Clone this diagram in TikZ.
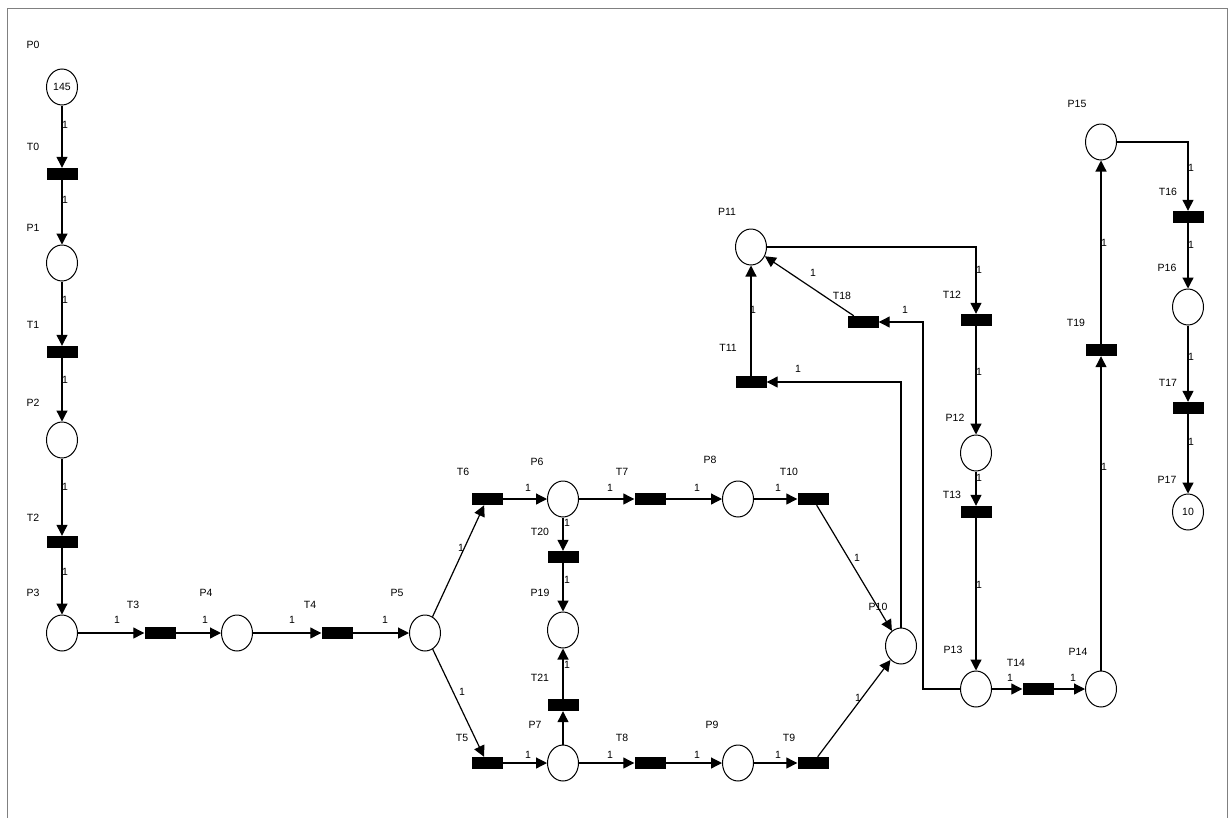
\documentclass[tikz,border=0pt]{standalone}
\usepackage{fontspec}
\setmainfont{Liberation Sans}
\usetikzlibrary{arrows.meta, positioning, shapes.geometric}

\begin{document}
\begin{tikzpicture}[
    x=1pt, y=-1pt,
    place/.style={ellipse, draw, line width=1pt, minimum width=31, minimum height=36, inner sep=0, font=\fontsize{10.5}{12}\selectfont},
    trans/.style={rectangle, fill=black, minimum width=31, minimum height=12, inner sep=0},
    pname/.style={inner sep=0, font=\fontsize{10.5}{12}\selectfont},
    wlabel/.style={inner sep=0, font=\fontsize{10.5}{12}\selectfont},
    arc/.style={-{Triangle[length=11pt, width=11pt]}, line width=1.2pt}
]
    \useasboundingbox (0,0) rectangle (1231,817);
    \draw[gray, line width=0.6pt] (7,830) -- (7,8) -- (1227,8) -- (1227,830);

    % places
    \node[place] (P0) at (62, 87) {145};
    \node[place] (P1) at (62, 263) {};
    \node[place] (P2) at (62, 440) {};
    \node[place] (P3) at (62, 633) {};
    \node[place] (P4) at (237, 633) {};
    \node[place] (P5) at (425, 633) {};
    \node[place] (P6) at (563, 499) {};
    \node[place] (P7) at (563, 763) {};
    \node[place] (P8) at (738, 499) {};
    \node[place] (P9) at (738, 763) {};
    \node[place] (P10) at (901, 646) {};
    \node[place] (P11) at (751, 247) {};
    \node[place] (P12) at (976, 453) {};
    \node[place] (P13) at (976, 689) {};
    \node[place] (P14) at (1101, 689) {};
    \node[place] (P15) at (1101, 142) {};
    \node[place] (P16) at (1188, 307) {};
    \node[place] (P17) at (1188, 512) {10};
    \node[place] (P19) at (563, 630) {};

    % transitions
    \node[trans] (T0) at (62, 174) {};
    \node[trans] (T1) at (62, 352) {};
    \node[trans] (T2) at (62, 542) {};
    \node[trans] (T3) at (160, 633) {};
    \node[trans] (T4) at (337, 633) {};
    \node[trans] (T5) at (487, 763) {};
    \node[trans] (T6) at (487, 499) {};
    \node[trans] (T7) at (650, 499) {};
    \node[trans] (T8) at (650, 763) {};
    \node[trans] (T9) at (813, 763) {};
    \node[trans] (T10) at (813, 499) {};
    \node[trans] (T11) at (751, 382) {};
    \node[trans] (T12) at (976, 320) {};
    \node[trans] (T13) at (976, 512) {};
    \node[trans] (T14) at (1038, 689) {};
    \node[trans] (T16) at (1188, 217) {};
    \node[trans] (T17) at (1188, 408) {};
    \node[trans] (T18) at (863, 322) {};
    \node[trans] (T19) at (1101, 350) {};
    \node[trans] (T20) at (563, 557) {};
    \node[trans] (T21) at (563, 705) {};

    % names
    \foreach \n/\x/\y in {P0/33/45, T0/33/147, P1/33/228, T1/33/325, P2/33/403, T2/33/518,
        P3/33/593, T3/133/605, P4/206/593, T4/310/605, P5/397/593,
        T6/463/472, P6/537/462, T7/622/472, P8/710/460, T10/789/472,
        T20/540/532, P19/540/593, T21/540/678, P7/535/725,
        T5/462/738, T8/622/738, P9/712/725, T9/789/738,
        P10/878/607, P11/727/212, T11/728/348, T18/842/296, T12/952/295,
        P12/955/418, T13/952/495, P13/953/650, T14/1016/663, P14/1078/652,
        T19/1076/323, P15/1077/104, T16/1168/192, P16/1167/268, T17/1168/383, P17/1167/480}
        \node[pname] (n\n) at (\x, \y) {\n};

    % arcs
    \draw[arc] (P0) -- (T0);
    \draw[arc] (T0) -- (P1);
    \draw[arc] (P1) -- (T1);
    \draw[arc] (T1) -- (P2);
    \draw[arc] (P2) -- (T2);
    \draw[arc] (T2) -- (P3);
    \draw[arc] (P3) -- (T3);
    \draw[arc] (T3) -- (P4);
    \draw[arc] (P4) -- (T4);
    \draw[arc] (T4) -- (P5);
    \draw[arc] (P5) -- (T6);
    \draw[arc] (P5) -- (T5);
    \draw[arc] (T6) -- (P6);
    \draw[arc] (P6) -- (T7);
    \draw[arc] (T7) -- (P8);
    \draw[arc] (P8) -- (T10);
    \draw[arc] (T5) -- (P7);
    \draw[arc] (P7) -- (T8);
    \draw[arc] (T8) -- (P9);
    \draw[arc] (P9) -- (T9);
    \draw[arc] (P6) -- (T20);
    \draw[arc] (T20) -- (P19);
    \draw[arc] (P7) -- (T21);
    \draw[arc] (T21) -- (P19);
    \draw[arc] (T10) -- (P10);
    \draw[arc] (T9) -- (P10);
    \draw[arc] (P10) |- (T11);
    \draw[arc] (T11) -- (P11);
    \draw[arc] (T18) -- (P11);
    \draw[arc] (P13.west) -- ++(-37,0) |- (T18);
    \draw[arc] (P11) -| (T12);
    \draw[arc] (T12) -- (P12);
    \draw[arc] (P12) -- (T13);
    \draw[arc] (T13) -- (P13);
    \draw[arc] (P13) -- (T14);
    \draw[arc] (T14) -- (P14);
    \draw[arc] (P14) -- (T19);
    \draw[arc] (T19) -- (P15);
    \draw[arc] (P15) -| (T16);
    \draw[arc] (T16) -- (P16);
    \draw[arc] (P16) -- (T17);
    \draw[arc] (T17) -- (P17);

    % weights
    \foreach \x/\y [count=\i] in {65/125, 65/200, 65/300, 65/380, 65/487, 65/572,
        117/620, 205/620, 292/620, 385/620, 461/548, 462/692,
        528/488, 610/488, 697/488, 778/488, 528/755, 610/755, 697/755, 778/755,
        567/523, 567/580, 567/665, 857/558, 858/698, 798/369, 753/310, 813/273, 905/310,
        979/270, 979/372, 979/478, 979/585, 1010/678, 1073/678, 1104/467, 1104/243,
        1191/168, 1191/245, 1191/357, 1191/442}
        \node[wlabel] (w\i) at (\x, \y) {1};
\end{tikzpicture}
\end{document}
